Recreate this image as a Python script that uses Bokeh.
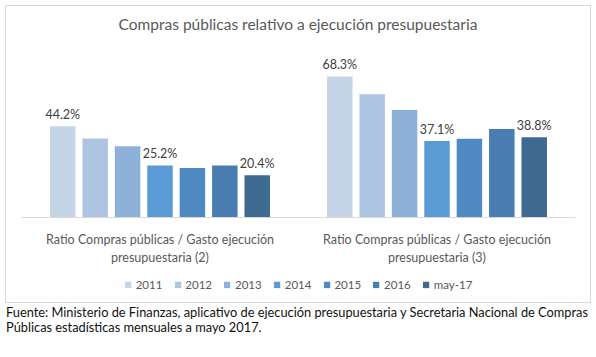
from bokeh.plotting import figure
from bokeh.models import ColumnDataSource, Legend, LegendItem, Range1d, Div
from bokeh.transform import dodge
from bokeh.layouts import column
from bokeh.embed import file_html
from bokeh.resources import INLINE
from bokeh.core.properties import value

# ---- data ----
groups = ["Ratio Compras públicas / Gasto ejecución\npresupuestaria (2)",
          "Ratio Compras públicas / Gasto ejecución\npresupuestaria (3)"]
years = ["2011", "2012", "2013", "2014", "2015", "2016", "may-17"]
v2011 = [44.2, 68.3]
v2012 = [38.3, 59.7]
v2013 = [34.5, 52.0]
v2014 = [25.2, 37.1]
v2015 = [24.0, 38.1]
v2016 = [25.2, 42.9]
vmay17 = [20.4, 38.8]
labeled_years = ["2011", "2014", "may-17"]

title_text = "Compras públicas relativo a ejecución presupuestaria"
footnote = ("Fuente: Ministerio de Finanzas, aplicativo de ejecución presupuestaria y Secretaria Nacional de Compras<br>"
            "Públicas estadísticas mensuales a mayo 2017.")

# ---- style ----
colors = ["#c5d5e8", "#adc5e3", "#8eb1da", "#5b9bd5", "#508ac2", "#497db1", "#3e6991"]
FONT = "Lato"
series = [v2011, v2012, v2013, v2014, v2015, v2016, vmay17]

title_div = Div(text=title_text, width=584, height=22, margin=(8, 0, 0, 0),
                styles={"font-family": FONT, "font-size": "15.5px", "line-height": "20px",
                        "color": "#595959", "text-align": "center", "width": "584px"})

p = figure(x_range=groups, width=584, height=231, output_backend="svg",
           toolbar_location=None, min_border_left=15, min_border_right=15,
           min_border_top=10, min_border_bottom=48)
p.y_range = Range1d(0, 82.8)
p.title = None

step = 0.117
width = 0.092
for i, (yr, vals) in enumerate(zip(years, series)):
    src = ColumnDataSource(dict(x=groups, top=vals,
                                lbl=[f"{v:.1f}%" for v in vals]))
    off = (i - 3) * step
    p.vbar(x=dodge("x", off, range=p.x_range), top="top", width=width,
           source=src, fill_color=colors[i], line_color=None)
    if yr in labeled_years:
        p.text(x=dodge("x", off, range=p.x_range), y="top", text="lbl", source=src,
               text_align="center", text_baseline="bottom", y_offset=-4,
               text_font=value(FONT), text_font_size="12.5px", text_color="#404040")

p.yaxis.visible = False
p.xgrid.grid_line_color = None
p.ygrid.grid_line_color = None
p.outline_line_color = None
xa = p.xaxis[0]
xa.axis_line_color = "#d9d9d9"
xa.major_tick_line_color = None
xa.minor_tick_line_color = None
xa.major_label_text_font = FONT
xa.major_label_text_font_size = "12.5px"
xa.major_label_text_color = "#595959"
xa.major_label_standoff = 8
p.x_range.range_padding = 0

# legend strip (separate small figure; swatch renderers have zero height)
lg = figure(width=584, height=34, output_backend="svg", toolbar_location=None,
            x_range=Range1d(0, 1), y_range=Range1d(0, 1),
            min_border=0, outline_line_color=None)
lg.axis.visible = False
lg.grid.visible = False
items = []
for i, yr in enumerate(years):
    r = lg.vbar(x=[0.5], top=[0], bottom=[0], width=0.0, fill_color=colors[i], line_color=None)
    items.append(LegendItem(label=yr, renderers=[r]))
legend = Legend(items=items, orientation="horizontal", location="center",
                glyph_width=8, glyph_height=8, label_standoff=4, spacing=11,
                label_text_font=FONT, label_text_font_size="11.5px",
                label_text_color="#595959", border_line_color=None,
                background_fill_alpha=0, padding=2, margin=0, label_height=12)
lg.add_layout(legend, "center")

box = column(title_div, p, lg, spacing=0, width=586, height=298,
             styles={"border": "1px solid #d9d9d9", "box-sizing": "border-box"},
             margin=(5, 0, 0, 5))

div = Div(text=footnote, width=590,
          styles={"font-family": FONT, "font-size": "12.8px", "line-height": "14.5px",
                  "color": "#111111", "white-space": "nowrap"},
          margin=(2, 0, 0, 6))

layout = column(box, div, spacing=0)
open("out.html", "w").write(file_html(layout, INLINE))
